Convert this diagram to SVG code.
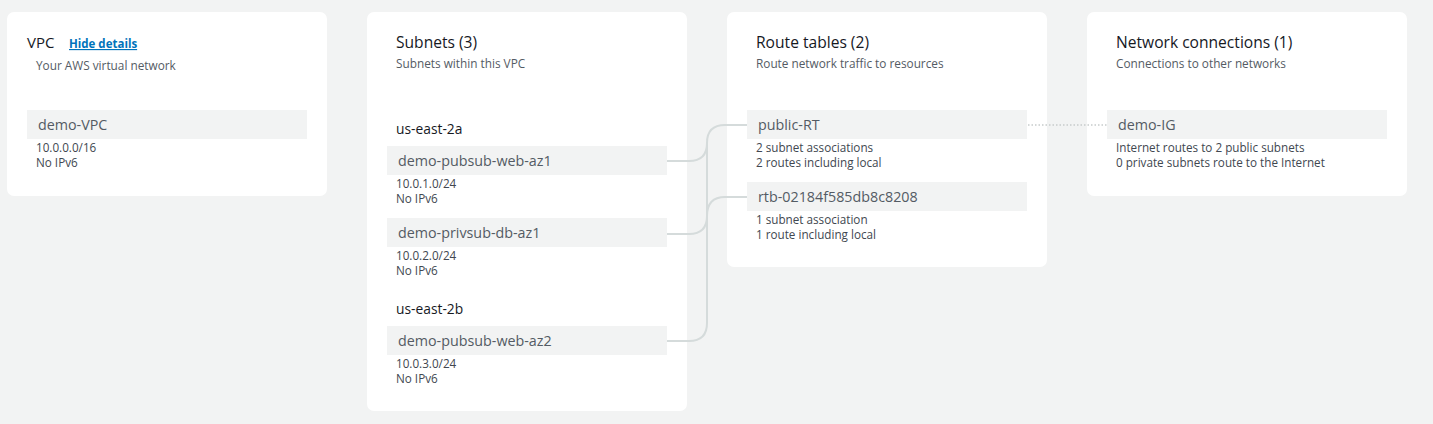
<svg xmlns="http://www.w3.org/2000/svg" width="1433" height="424" viewBox="0 0 1433 424">
<style>
text{font-family:"Open Sans","Noto Sans","Liberation Sans",sans-serif}
.panel{fill:#ffffff}
.node{fill:#f2f3f3}
.title{font-size:15.6px;fill:#16191f}
.vpc{font-size:15px;fill:#16191f}
.sub{font-size:11.8px;fill:#545b64}
.lbl{font-size:14.3px;fill:#545b64}
.det{font-size:11.7px;fill:#414750}
.az{font-size:13.8px;fill:#16191f}
.link{font-size:11.5px;font-weight:bold;fill:#0073bb;text-decoration:underline}
.conn{fill:none;stroke:#d5dbdb;stroke-width:2}
.dot{fill:none;stroke:#c6cbcb;stroke-width:1.5;stroke-dasharray:1.5 2}
</style>
<rect width="1433" height="424" fill="#f2f3f3"/>
<g id="panel-vpc">
<rect class="panel" x="7" y="12" width="320" height="184" rx="7"/>
<text class="vpc" x="27" y="48">VPC</text>
<text class="link" x="69" y="48">Hide details</text>
<text class="sub" x="36" y="70">Your AWS virtual network</text>
</g>
<g id="panel-subnets">
<rect class="panel" x="367" y="12" width="320" height="399" rx="7"/>
<text class="title" x="396" y="48">Subnets (3)</text>
<text class="sub" x="396" y="68">Subnets within this VPC</text>
<text class="az" x="396" y="134">us-east-2a</text>
<text class="az" x="396" y="314">us-east-2b</text>
</g>
<g id="panel-routes">
<rect class="panel" x="727" y="12" width="320" height="255" rx="7"/>
<text class="title" x="756" y="48">Route tables (2)</text>
<text class="sub" x="756" y="68">Route network traffic to resources</text>
</g>
<g id="panel-network">
<rect class="panel" x="1087" y="12" width="320" height="184" rx="7"/>
<text class="title" x="1116" y="48">Network connections (1)</text>
<text class="sub" x="1116" y="68">Connections to other networks</text>
</g>
<g id="connectors">
<path class="conn" d="M667,161 H689 Q707,161 707,143 Q707,125 725,125 H747"/>
<path class="conn" d="M667,234 H689 Q707,234 707,216 Q707,197 725,197 H747"/>
<path class="conn" d="M667,341 H689 Q707,341 707,323 V143"/>
<path class="dot" d="M1028,125 H1107"/>
</g>
<g id="node-demo-vpc">
<rect class="node" x="27" y="110" width="280" height="29"/>
<text class="lbl" x="38" y="130">demo-VPC</text>
<text class="det" x="36" y="152">10.0.0.0/16</text>
<text class="det" x="36" y="167">No IPv6</text>
</g>
<g id="node-subnet-web-az1">
<rect class="node" x="387" y="146" width="280" height="29"/>
<text class="lbl" x="398" y="166">demo-pubsub-web-az1</text>
<text class="det" x="396" y="188">10.0.1.0/24</text>
<text class="det" x="396" y="203">No IPv6</text>
</g>
<g id="node-subnet-db-az1">
<rect class="node" x="387" y="218" width="280" height="29"/>
<text class="lbl" x="398" y="238">demo-privsub-db-az1</text>
<text class="det" x="396" y="260">10.0.2.0/24</text>
<text class="det" x="396" y="275">No IPv6</text>
</g>
<g id="node-subnet-web-az2">
<rect class="node" x="387" y="326" width="280" height="29"/>
<text class="lbl" x="398" y="346">demo-pubsub-web-az2</text>
<text class="det" x="396" y="368">10.0.3.0/24</text>
<text class="det" x="396" y="383">No IPv6</text>
</g>
<g id="node-public-rt">
<rect class="node" x="747" y="110" width="280" height="29"/>
<text class="lbl" x="758" y="130">public-RT</text>
<text class="det" x="756" y="152">2 subnet associations</text>
<text class="det" x="756" y="167">2 routes including local</text>
</g>
<g id="node-rtb">
<rect class="node" x="747" y="182" width="280" height="29"/>
<text class="lbl" x="758" y="202">rtb-02184f585db8c8208</text>
<text class="det" x="756" y="224">1 subnet association</text>
<text class="det" x="756" y="239">1 route including local</text>
</g>
<g id="node-demo-ig">
<rect class="node" x="1107" y="110" width="280" height="29"/>
<text class="lbl" x="1118" y="130">demo-IG</text>
<text class="det" x="1116" y="152">Internet routes to 2 public subnets</text>
<text class="det" x="1116" y="167">0 private subnets route to the Internet</text>
</g>
</svg>
